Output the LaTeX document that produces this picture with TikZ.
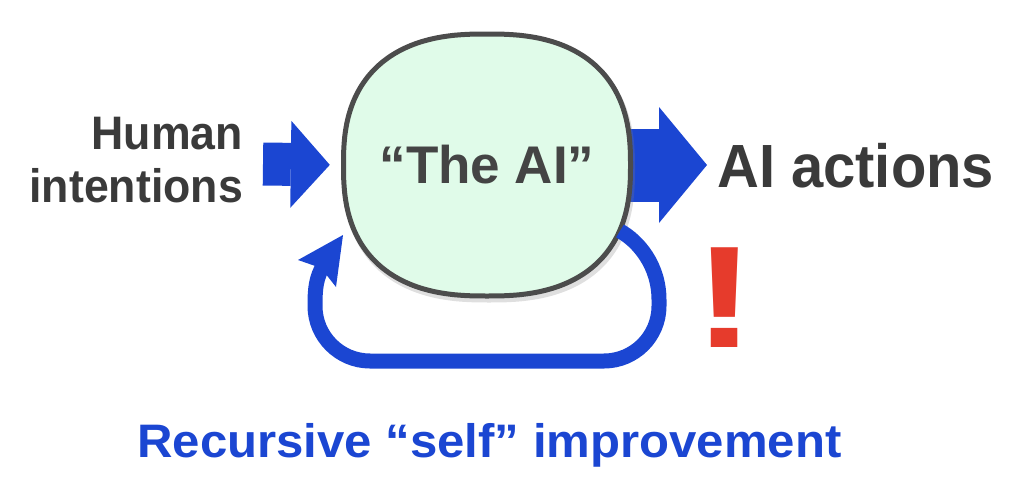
\documentclass[tikz,border=0pt]{standalone}
\usepackage{fontspec}
\setmainfont{Liberation Sans}
\usepackage{xcolor}
\usetikzlibrary{arrows.meta,backgrounds}
\definecolor{arrowblue}{HTML}{1B46D2}
\definecolor{textgray}{HTML}{3A3A3A}
\definecolor{mint}{HTML}{E0FBE9}
\definecolor{rimgray}{HTML}{4C4C4C}
\definecolor{bangred}{HTML}{E63B2C}

\begin{document}
\begin{tikzpicture}[x=1pt,y=-1pt]
\tikzset{every node/.style={inner sep=0pt,text=textgray}}
\tikzset{big/.style={font=\bfseries\fontsize{#1}{#1}\selectfont}}
\tikzset{blockarrow/.style={arrowblue,line width=#1}}
\tikzset{squircle/.style={shift={(487,165)}}}

\useasboundingbox (0,0) rectangle (1024,503);

\fill[squircle,gray,opacity=.25,xshift=2pt,yshift=-4pt] plot[smooth cycle,domain=1.25:358.75,samples=144] ({146*sign(cos(\x))*abs(cos(\x))^0.8},{133.5*sign(sin(\x))*abs(sin(\x))^0.8});
\filldraw[squircle,fill=mint,draw=rimgray,line width=5pt] plot[smooth cycle,domain=1.25:358.75,samples=144] ({143.5*sign(cos(\x))*abs(cos(\x))^0.8},{131*sign(sin(\x))*abs(sin(\x))^0.8});

\node[big=53,text=textgray!95,minimum width=292pt,minimum height=267pt] (ai) at (487,165) {“The AI”};
\node[big=47,align=right,anchor=base east,xscale=.95] (human) at (243,202) {Human\\[6pt]intentions};
\node[big=61,anchor=base west,xscale=.95] (actions) at (717,187) {AI actions};
\node[big=145,text=bangred,anchor=base,xscale=1.3] (bang) at (724.5,347) {!};
\node[big=47,text=arrowblue,anchor=base,xscale=1.045] (self) at (489.5,457) {Recursive “self” improvement};
\coordinate (in) at (263,164);
\coordinate (tip) at (343,235);

\begin{scope}[on background layer]
\draw[blockarrow=43pt,-{Triangle[length=39pt,width=87pt,line width=0pt]},shorten >=11pt] (in) -- (ai.west);
\draw[blockarrow=73pt,-{Triangle[length=48pt,width=116pt,line width=0pt]},shorten >=10pt] (ai.center) -- (actions.west |- ai.center);
\end{scope}

\draw[blockarrow=15pt] ([shift={(133,66)}]ai.center) .. controls +(18,10) and (659,265) .. (659,300) -- (659,306) arc[start angle=0,end angle=90,radius=55] -- (370,361) arc[start angle=90,end angle=180,radius=55] .. controls (315,288) and (316,278) .. (324,264);
\fill[arrowblue] (tip) -- (298,260) -- (321,268) -- (336,287) -- cycle;

\end{tikzpicture}
\end{document}
